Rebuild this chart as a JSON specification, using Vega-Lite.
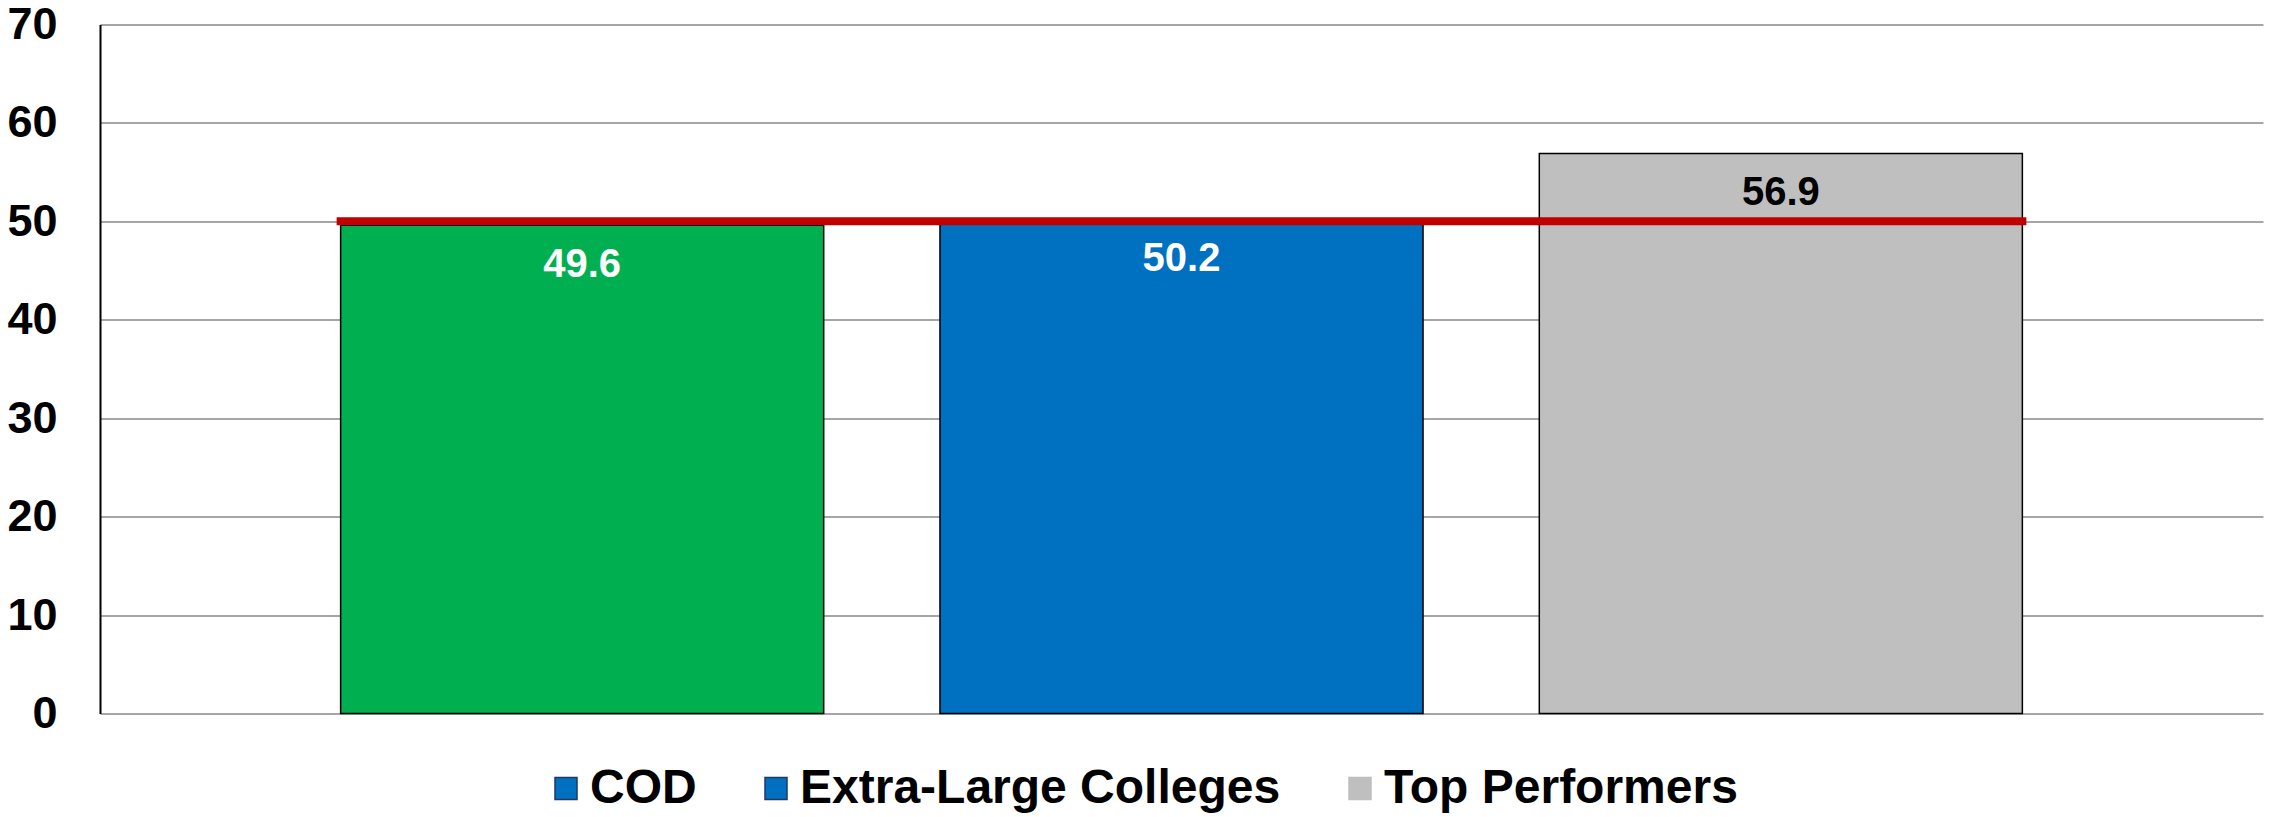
{
  "$schema": "https://vega.github.io/schema/vega-lite/v6.json",
  "width": 2163,
  "height": 689,
  "autosize": "none",
  "padding": {"left": 100, "top": 24.5, "right": 6, "bottom": 103.5},
  "background": "white",
  "config": {
    "view": {"stroke": null},
    "font": "Liberation Sans"
  },
  "data": {
    "values": [
      {"cat": "COD", "value": 49.6},
      {"cat": "Extra-Large Colleges", "value": 50.2},
      {"cat": "Top Performers", "value": 56.9}
    ]
  },
  "layer": [
    {
      "mark": {"type": "bar", "stroke": "#000000", "strokeWidth": 1.5},
      "encoding": {
        "x": {
          "field": "cat", "type": "nominal",
          "sort": ["COD", "Extra-Large Colleges", "Top Performers"],
          "scale": {"domain": ["COD", "Extra-Large Colleges", "Top Performers"], "paddingInner": 0.194, "paddingOuter": 0.4015},
          "axis": null
        },
        "y": {
          "field": "value", "type": "quantitative",
          "scale": {"domain": [0, 70], "nice": false},
          "axis": {
            "values": [0, 10, 20, 30, 40, 50, 60, 70],
            "title": null,
            "ticks": false,
            "labelPadding": 43,
            "labelFont": "Liberation Sans",
            "labelFontWeight": "bold",
            "labelFontSize": 45,
            "labelColor": "#000000",
            "domainColor": "#000000",
            "domainWidth": 2,
            "gridColor": "#A6A6A6",
            "gridWidth": 2,
            "gridOpacity": 1
          }
        },
        "fill": {
          "condition": [
            {"test": "datum.cat === 'COD'", "value": "#00B050"},
            {"test": "datum.cat === 'Extra-Large Colleges'", "value": "#0070C0"}
          ],
          "value": "#BFBFBF"
        }
      }
    },
    {
      "mark": {"type": "square", "filled": true, "opacity": 1, "strokeWidth": 1.5},
      "encoding": {
        "x": {"field": "cat", "type": "nominal", "sort": ["COD", "Extra-Large Colleges", "Top Performers"]},
        "y": {"field": "value", "type": "quantitative"},
        "size": {"value": 0},
        "stroke": {
          "field": "cat", "type": "nominal",
          "scale": {"domain": ["COD", "Extra-Large Colleges", "Top Performers"], "range": ["#1F3864", "#1F3864", "#BFBFBF"]}
        },
        "fill": {
          "field": "cat", "type": "nominal",
          "scale": {"domain": ["COD", "Extra-Large Colleges", "Top Performers"], "range": ["#0070C0", "#0070C0", "#BFBFBF"]},
          "legend": {
            "title": null,
            "orient": "none",
            "direction": "horizontal",
            "legendX": 442,
            "legendY": 740,
            "padding": 0,
            "symbolType": "square",
            "symbolSize": 484,
            "symbolStrokeWidth": 1.5,
            "symbolOpacity": 1,
            "labelFont": "Liberation Sans",
            "labelFontWeight": "bold",
            "labelFontSize": 48,
            "labelColor": "#000000",
            "labelOffset": 0,
            "columnPadding": 55,
            "labelLimit": 0
          }
        }
      }
    },
    {
      "mark": {"type": "text", "font": "Liberation Sans", "fontWeight": "bold", "fontSize": 40, "baseline": "middle", "dy": 40},
      "encoding": {
        "x": {"field": "cat", "type": "nominal", "sort": ["COD", "Extra-Large Colleges", "Top Performers"]},
        "y": {"field": "value", "type": "quantitative"},
        "text": {"field": "value", "type": "quantitative", "format": ".1f"},
        "fill": {"condition": {"test": "datum.cat === 'Top Performers'", "value": "#000000"}, "value": "#FFFFFF"}
      }
    },
    {
      "data": {"values": [{"from": "COD", "to": "Top Performers", "v": 50}]},
      "mark": {"type": "rule", "color": "#C00000", "strokeWidth": 8, "strokeCap": "square"},
      "encoding": {
        "x": {"field": "from", "type": "nominal", "bandPosition": 0},
        "x2": {"field": "to", "bandPosition": 1},
        "y": {"field": "v", "type": "quantitative"}
      }
    }
  ]
}
